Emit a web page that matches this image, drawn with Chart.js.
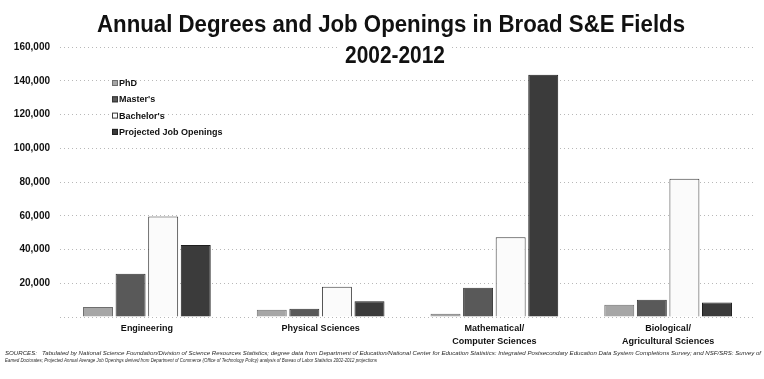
<!DOCTYPE html>
<html>
<head>
<meta charset="utf-8">
<script src="https://cdn.jsdelivr.net/npm/chart.js@4/dist/chart.umd.min.js"></script>
<style>
  html, body { margin: 0; padding: 0; background: #fff; }
  #wrap { width: 764px; height: 379px; position: relative; }
</style>
</head>
<body>
<div id="wrap"><canvas id="c" width="764" height="379"></canvas></div>
<script>
const categories = [['Engineering'], ['Physical Sciences'], ['Mathematical/', 'Computer Sciences'], ['Biological/', 'Agricultural Sciences']];
const seriesNames = ['PhD', "Master's", "Bachelor's", 'Projected Job Openings'];
const phd = [5900, 4300, 2000, 7300];
const masters = [25700, 4900, 17300, 10200];
const bachelors = [59500, 18000, 47200, 82000];
const jobs = [42700, 9300, 143500, 8600];
const yTicks = [0, 20000, 40000, 60000, 80000, 100000, 120000, 140000, 160000];

const titleLine1 = 'Annual Degrees and Job Openings in Broad S&E Fields';
const titleLine2 = '2002-2012';
const footer1 = 'SOURCES:   Tabulated by National Science Foundation/Division of Science Resources Statistics; degree data from Department of Education/National Center for Education Statistics: Integrated Postsecondary Education Data System Completions Survey; and NSF/SRS: Survey of';
const footer2 = 'Earned Doctorates; Projected Annual Average Job Openings derived from Department of Commerce (Office of Technology Policy) analysis of Bureau of Labor Statistics 2002-2012 projections';

const fills = ['#a6a6a6', '#595959', '#fbfbfb', '#3b3b3b'];
const borders = ['#6e6e6e', '#333333', '#3a3a3a', '#1e1e1e'];

function fitText(ctx, text, x, y, width, font, align) {
  ctx.save();
  ctx.font = font;
  const w = ctx.measureText(text).width;
  const sx = width / w;
  ctx.translate(x, y);
  ctx.scale(sx, 1);
  ctx.textAlign = 'left';
  let ox = 0;
  if (align === 'center') ox = -w / 2;
  ctx.fillText(text, ox, 0);
  ctx.restore();
}

const decor = {
  id: 'decor',
  afterDraw(chart) {
    const ctx = chart.ctx;
    ctx.save();
    ctx.fillStyle = '#111';
    ctx.textBaseline = 'alphabetic';
    // titles
    fitText(ctx, titleLine1, 391, 32, 588, 'bold 24px "Liberation Sans", Arial, sans-serif', 'center');
    ctx.fillStyle = '#fff';
    ctx.fillRect(338, 40, 112, 26);
    ctx.fillStyle = '#111';
    fitText(ctx, titleLine2, 395, 63, 100, 'bold 23px "Liberation Sans", Arial, sans-serif', 'center');
    // legend
    ctx.font = 'bold 9px "Liberation Sans", Arial, sans-serif';
    chart.data.datasets.forEach((ds, i) => {
      const y = 83 + i * 16.3;
      ctx.fillStyle = ds.backgroundColor;
      ctx.fillRect(112, y - 3, 6, 6);
      ctx.strokeStyle = ds.borderColor;
      ctx.lineWidth = 1;
      ctx.strokeRect(112.5, y - 2.5, 5, 5);
      ctx.fillStyle = '#111';
      ctx.textBaseline = 'middle';
      ctx.fillText(ds.label, 119, y + 0.5);
    });
    // footer
    ctx.textBaseline = 'alphabetic';
    ctx.fillStyle = '#2a2a2a';
    fitText(ctx, footer1, 5, 355, 756, 'italic 6px "Liberation Sans", Arial, sans-serif', 'left');
    fitText(ctx, footer2, 5, 362, 372, 'italic 6px "Liberation Sans", Arial, sans-serif', 'left');
    ctx.restore();
  }
};

const datasets = [phd, masters, bachelors, jobs].map((d, i) => ({
  label: seriesNames[i],
  data: d,
  backgroundColor: fills[i],
  borderColor: borders[i],
  borderWidth: 1,
  barPercentage: 0.92,
  categoryPercentage: 0.75
}));

new Chart(document.getElementById('c'), {
  type: 'bar',
  data: { labels: categories, datasets },
  options: {
    responsive: false,
    animation: false,
    layout: { padding: { top: 47, right: 9, left: 0, bottom: 0 } },
    plugins: { legend: { display: false }, title: { display: false }, tooltip: { enabled: false } },
    scales: {
      x: {
        grid: { display: false, drawTicks: false },
        border: { display: false },
        ticks: { color: '#111', font: { family: '"Liberation Sans", Arial, sans-serif', size: 9, weight: 'bold', lineHeight: 1.45 }, padding: 5, maxRotation: 0, autoSkip: false },
        afterFit(s) { s.height = 62; }
      },
      y: {
        min: 0, max: 160000,
        afterBuildTicks(s) { s.ticks = yTicks.map(v => ({ value: v })); },
        grid: { color: '#b8b8b8', lineWidth: 1, drawTicks: false },
        border: { display: false, dash: [1, 3] },
        ticks: {
          color: '#111', padding: 10,
          font: { family: '"Liberation Sans", Arial, sans-serif', size: 10, weight: 'bold' },
          callback: v => v === 0 ? '' : v.toLocaleString('en-US')
        },
        afterFit(s) { s.width = 60; }
      }
    }
  },
  plugins: [decor]
});
</script>
</body>
</html>
